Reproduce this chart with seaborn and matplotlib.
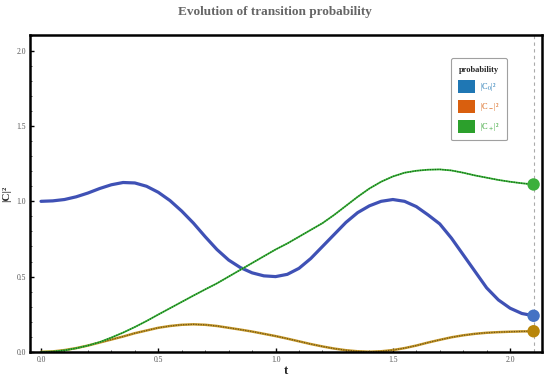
import matplotlib
matplotlib.use("Agg")
import matplotlib.pyplot as plt
from matplotlib.patches import Patch
from matplotlib.ticker import MultipleLocator, FormatStrFormatter
import seaborn as sns
import pandas as pd

# values, t step 0.05
t = [round(0.05 * i, 2) for i in range(43)]
c0 = [1.000, 1.003, 1.012, 1.030, 1.055, 1.085, 1.110, 1.125, 1.122, 1.100,
      1.060, 1.005, 0.935, 0.855, 0.765, 0.680, 0.610, 0.560, 0.525, 0.505,
      0.500, 0.515, 0.555, 0.620, 0.700, 0.780, 0.860, 0.925, 0.970, 1.000,
      1.012, 1.000, 0.965, 0.910, 0.850, 0.755, 0.645, 0.535, 0.425, 0.345,
      0.290, 0.255, 0.240]
cm = [0.000, 0.003, 0.012, 0.025, 0.042, 0.062, 0.082, 0.102, 0.124, 0.142,
      0.160, 0.172, 0.180, 0.183, 0.180, 0.172, 0.160, 0.148, 0.135, 0.120,
      0.105, 0.088, 0.070, 0.052, 0.036, 0.022, 0.011, 0.004, 0.001, 0.004,
      0.012, 0.025, 0.042, 0.062, 0.080, 0.097, 0.110, 0.120, 0.127, 0.131,
      0.134, 0.136, 0.137]
cp = [0.000, 0.002, 0.010, 0.024, 0.042, 0.065, 0.095, 0.128, 0.165, 0.205,
      0.248, 0.290, 0.332, 0.374, 0.415, 0.455, 0.500, 0.545, 0.590, 0.635,
      0.680, 0.720, 0.765, 0.810, 0.855, 0.910, 0.970, 1.030, 1.085, 1.130,
      1.165, 1.190, 1.203, 1.210, 1.212, 1.205, 1.190, 1.172, 1.157, 1.142,
      1.130, 1.120, 1.112]
labels = ["|C$_0$|²", "|C$_-$|²", "|C$_+$|²"]
legend_colors = ["#1f77b4", "#d95f0e", "#2ca02c"]
t_end = 2.1

df = pd.DataFrame({"t": t, "c0": c0, "cm": cm, "cp": cp})

sns.set_theme(style="white")
plt.rcParams["font.family"] = ["Liberation Serif", "DejaVu Serif"]
plt.rcParams["mathtext.fontset"] = "stix"

fig = plt.figure(figsize=(5.5, 3.8), dpi=100)
ax = fig.add_axes([0.0545, 0.074, 0.931, 0.834])

# blue solid curve
sns.lineplot(data=df, x="t", y="c0", ax=ax, color="#3f51b5", lw=2.3)
# orange: base line with dark dots on top
sns.lineplot(data=df, x="t", y="cm", ax=ax, color="#c89a2a", lw=1.8)
sns.lineplot(data=df, x="t", y="cm", ax=ax, color="#6e5418", lw=0.9, ls=(0, (1, 1)))
# green: light line with dark dots on top
sns.lineplot(data=df, x="t", y="cp", ax=ax, color="#3cbf3c", lw=1.3)
sns.lineplot(data=df, x="t", y="cp", ax=ax, color="#1e5e1e", lw=0.9, ls=(0, (1, 1)))

ax.axvline(t_end, color="#aaaaaa", lw=0.8, ls=(0, (3, 3)), zorder=1)

# end points
ends = pd.DataFrame({"t": [t_end] * 3, "v": [c0[-1], cm[-1], cp[-1]],
                     "k": ["a", "b", "c"]})
sns.scatterplot(data=ends, x="t", y="v", hue="k", ax=ax, s=80,
                palette=["#4472c4", "#b8860b", "#3cb03c"], edgecolor="none",
                legend=False, zorder=5)

ax.set_xlim(-0.047, 2.136)
ax.set_ylim(0, 2.105)
ax.xaxis.set_major_locator(MultipleLocator(0.5))
ax.xaxis.set_minor_locator(MultipleLocator(0.1))
ax.yaxis.set_major_locator(MultipleLocator(0.5))
ax.yaxis.set_minor_locator(MultipleLocator(0.1))
ax.tick_params(which="major", direction="in", length=3, width=1, color="black",
               labelsize=5.5, labelcolor="#555555", pad=3)
ax.tick_params(which="minor", direction="in", length=1.5, width=0.6, color="#333333")
ax.tick_params(top=False, right=False, bottom=True, left=True, which="both")
ax.xaxis.set_major_formatter(FormatStrFormatter("%.1f"))
ax.yaxis.set_major_formatter(FormatStrFormatter("%.1f"))
for sp in ax.spines.values():
    sp.set_color("black")
    sp.set_linewidth(1.8)

ax.set_xlabel("t", fontsize=9, fontweight="bold", labelpad=1)
ax.set_ylabel("|C|²", fontsize=8, fontweight="bold", labelpad=4)
fig.suptitle("Evolution of transition probability", x=0.5, y=0.985,
             fontsize=9.5, fontweight="bold", color="#666666")

handles = [Patch(facecolor=c, edgecolor="none") for c in legend_colors]
leg = ax.legend(handles, labels, title="probability", loc="upper right",
                bbox_to_anchor=(0.94, 0.94), fontsize=6, title_fontsize=6,
                labelcolor=legend_colors, handlelength=2.0, handleheight=2.0,
                labelspacing=0.8, borderpad=0.9, handletextpad=0.6,
                frameon=True, fancybox=True)
leg.get_title().set_fontweight("bold")
leg.get_frame().set_edgecolor("#888888")
leg.get_frame().set_linewidth(0.8)

fig.savefig("out.png", dpi=100)
